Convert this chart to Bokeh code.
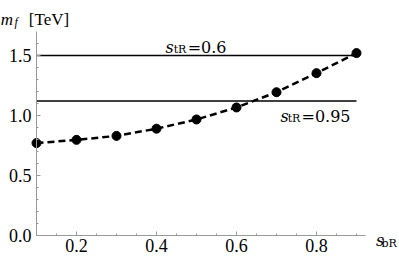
from bokeh.plotting import figure
from bokeh.models import FixedTicker, PrintfTickFormatter, Label, Range1d
from bokeh.embed import file_html
from bokeh.resources import INLINE

# data
s_bR = [0.1, 0.2, 0.3, 0.4, 0.5, 0.6, 0.7, 0.8, 0.9]
m_f = [0.77, 0.797, 0.83, 0.89, 0.967, 1.067, 1.194, 1.353, 1.52]
hline_values = [1.5, 1.12]
hline_x = [0.1, 0.9]
x_ticks = [0.2, 0.4, 0.6, 0.8]
y_ticks = [0.0, 0.5, 1.0, 1.5]

TICK_FONT = "Liberation Serif"
LAB_FONT = "DejaVu Serif"

p = figure(width=399, height=257, output_backend="svg", toolbar_location=None,
           x_range=Range1d(0.01, 1.0075), y_range=Range1d(-0.1833, 1.9583),
           min_border=0)
p.outline_line_color = None
p.grid.visible = False
p.background_fill_color = "white"
p.border_fill_color = "white"

for v in hline_values:
    p.line(hline_x, [v, v], line_color="black", line_width=1.5)

p.line(s_bR, m_f, line_color="black", line_width=2.5, line_dash="7 4")
p.scatter(s_bR, m_f, size=9, fill_color="black", line_color="black")

for ax in (p.xaxis[0], p.yaxis[0]):
    ax.axis_line_color = "#999999"
    ax.major_tick_line_color = "#999999"
    ax.minor_tick_line_color = "#999999"
    ax.major_tick_in = 4
    ax.major_tick_out = 0
    ax.minor_tick_in = 2
    ax.minor_tick_out = 0
    ax.major_label_text_font = TICK_FONT
    ax.major_label_text_font_size = "18px"
    ax.major_label_text_color = "black"
    ax.formatter = PrintfTickFormatter(format="%.1f")

p.xaxis[0].fixed_location = 0.0
p.xaxis[0].bounds = (0.1, 0.9225)
p.yaxis[0].fixed_location = 0.1
p.yaxis[0].bounds = (0.0, 1.70)

p.xaxis[0].ticker = FixedTicker(ticks=x_ticks,
                                minor_ticks=[0.1, 0.15, 0.25, 0.3, 0.35, 0.45, 0.5, 0.55, 0.65, 0.7, 0.75, 0.85, 0.9])
p.yaxis[0].ticker = FixedTicker(ticks=y_ticks,
                                minor_ticks=[0.1, 0.2, 0.3, 0.4, 0.6, 0.7, 0.8, 0.9, 1.1, 1.2, 1.3, 1.4, 1.6])
p.xaxis[0].major_label_standoff = 3
p.yaxis[0].major_label_standoff = 5


def lab(x, y, text, size="16px", italic=False, font=LAB_FONT):
    p.add_layout(Label(x=x, y=y, text=text, text_font=font, text_font_size=size,
                       text_font_style="italic" if italic else "normal",
                       text_baseline="alphabetic", text_align="left", text_color="black"))


# s_tR = 0.6
lab(0.4225, 1.565, "s", "16px", True)
lab(0.443, 1.547, "tR", "11px")
lab(0.478, 1.565, "=0.6", "16px")
# s_tR = 0.95
lab(0.71, 0.992, "s", "16px", True)
lab(0.728, 0.972, "tR", "11px")
lab(0.7625, 0.992, "=0.95", "16px")
# x axis label
lab(0.949, -0.042, "s", "16px", True)
lab(0.9625, -0.0625, "bR", "11px")
# y axis label
lab(0.0105, 1.8, "m", "17px", True, TICK_FONT)
lab(0.045, 1.775, "f", "12px", True, TICK_FONT)
lab(0.0808, 1.8, "[TeV]", "17px", False, TICK_FONT)

open("out.html", "w").write(file_html(p, INLINE))
